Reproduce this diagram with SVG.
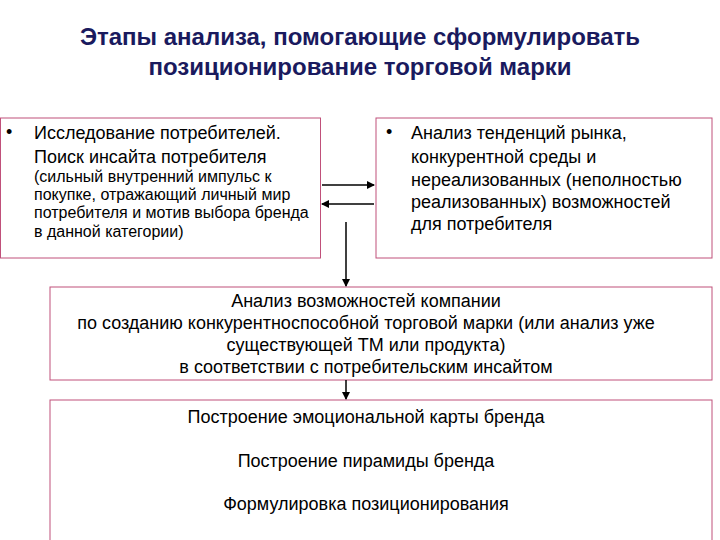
<svg xmlns="http://www.w3.org/2000/svg" width="720" height="540" viewBox="0 0 720 540">
<style>
text{font-family:"Liberation Sans",Arial,sans-serif;fill:#000}
.t{font-size:24px;font-weight:bold;fill:#1a1a5e}
.m{font-size:18px}
.s{font-size:16px}
.box{fill:#fff;stroke:#c0507a;stroke-width:1}
.c{stroke:#000;stroke-width:1.5;fill:none}
</style>
<defs><marker id="a" markerWidth="8" markerHeight="8" refX="7" refY="4" orient="auto" markerUnits="userSpaceOnUse"><path d="M0,0L8,4L0,8z" fill="#000"/></marker></defs>
<rect width="720" height="540" fill="#fff"/>
<g id="title"><text class="t" x="360" y="45" text-anchor="middle">Этапы анализа, помогающие сформулировать</text><text class="t" x="360" y="75" text-anchor="middle">позиционирование торговой марки</text></g>
<g id="n1"><rect class="box" x="0.5" y="118" width="320" height="140"/>
<text class="m" x="6" y="138">•</text>
<text class="m" x="34" y="139">Исследование потребителей.</text>
<text class="m" x="34" y="163">Поиск инсайта потребителя</text>
<text class="s" x="34" y="182">(сильный внутренний импульс к</text>
<text class="s" x="34" y="200">покупке, отражающий личный мир</text>
<text class="s" x="34" y="218">потребителя и мотив выбора бренда</text>
<text class="s" x="34" y="237">в данной категории)</text></g>
<g id="n2"><rect class="box" x="376" y="118" width="336" height="140"/>
<text class="m" x="386" y="138">•</text>
<text class="m" x="411" y="139">Анализ тенденций рынка,</text>
<text class="m" x="411" y="163">конкурентной среды и</text>
<text class="m" x="411" y="186">нереализованных (неполностью</text>
<text class="m" x="411" y="208">реализованных) возможностей</text>
<text class="m" x="411" y="230">для потребителя</text></g>
<g id="n3"><rect class="box" x="50" y="287" width="662" height="93"/>
<g text-anchor="middle"><text class="m" x="366" y="307">Анализ возможностей компании</text>
<text class="m" x="366" y="329">по созданию конкурентноспособной торговой марки (или анализ уже</text>
<text class="m" x="366" y="351">существующей ТМ или продукта)</text>
<text class="m" x="366" y="373">в соответствии с потребительским инсайтом</text></g></g>
<g id="n4"><rect class="box" x="50" y="400" width="662" height="145"/>
<g text-anchor="middle"><text class="m" x="366" y="423">Построение эмоциональной карты бренда</text>
<text class="m" x="366" y="467">Построение пирамиды бренда</text>
<text class="m" x="366" y="510">Формулировка позиционирования</text></g></g>
<g id="connectors">
<line class="c" x1="322" y1="185" x2="374" y2="185" marker-end="url(#a)"/>
<line class="c" x1="374" y1="204" x2="322" y2="204" marker-end="url(#a)"/>
<line class="c" x1="346" y1="222" x2="346" y2="286" marker-end="url(#a)"/>
<line class="c" x1="346" y1="380" x2="346" y2="399" marker-end="url(#a)"/>
</g>
</svg>
